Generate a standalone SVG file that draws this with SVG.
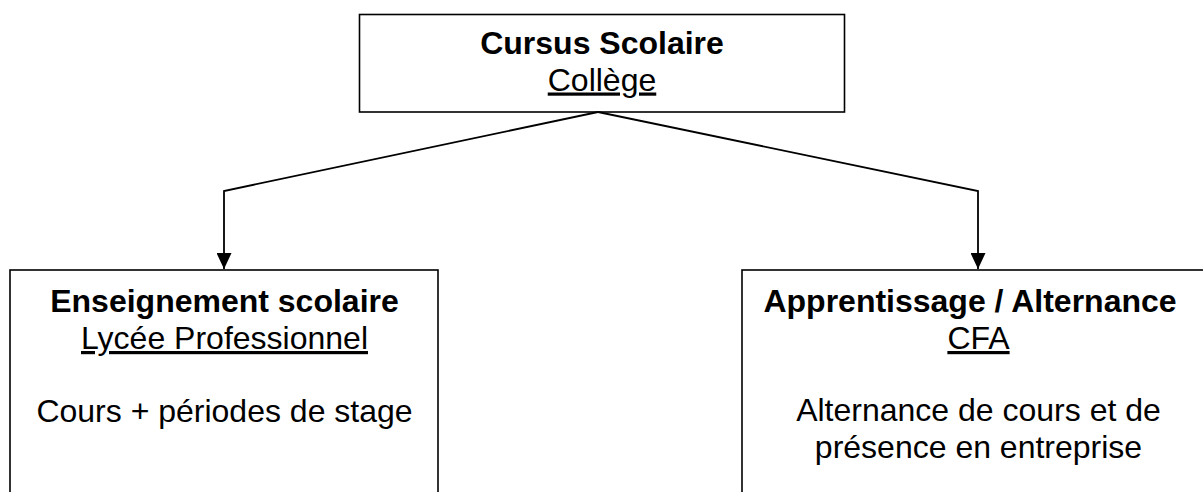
<svg xmlns="http://www.w3.org/2000/svg" width="1203" height="492" viewBox="0 0 1203 492">
<style>
.box{fill:#fff;stroke:#000;stroke-width:1.6}
.t{font-family:"Liberation Sans",Arial,sans-serif;font-size:32px;fill:#000;text-anchor:middle}
.b{font-weight:bold}
.u{text-decoration:underline}
.c{fill:none;stroke:#000;stroke-width:1.8}
</style>
<defs>
<marker id="arr" markerUnits="userSpaceOnUse" markerWidth="16" markerHeight="15" refX="16" refY="7.5" orient="auto">
<path d="M0,0 L16,7.5 L0,15 Z" fill="#000"/>
</marker>
</defs>
<rect width="1203" height="492" fill="#fff"/>
<g id="node-college">
<rect class="box" x="359.5" y="14.5" width="485" height="97.5"/>
<text class="t b" x="602" y="53.5">Cursus Scolaire</text>
<text class="t u" x="602" y="90.5">Collège</text>
</g>
<g id="node-lycee">
<rect class="box" x="10" y="270" width="428" height="240"/>
<text class="t b" x="224.5" y="312">Enseignement scolaire</text>
<text class="t u" x="224.5" y="349">Lycée Professionnel</text>
<text class="t" x="224.5" y="422">Cours + périodes de stage</text>
</g>
<g id="node-cfa">
<rect class="box" x="742" y="270" width="472" height="240"/>
<text class="t b" x="970" y="312">Apprentissage / Alternance</text>
<text class="t u" x="978.5" y="349">CFA</text>
<text class="t" x="978.5" y="421">Alternance de cours et de</text>
<text class="t" x="978.5" y="458">présence en entreprise</text>
</g>
<g id="connectors">
<polyline class="c" points="598,112 224,191 224,269" marker-end="url(#arr)"/>
<polyline class="c" points="598,112 978,191 978,269" marker-end="url(#arr)"/>
</g>
</svg>
